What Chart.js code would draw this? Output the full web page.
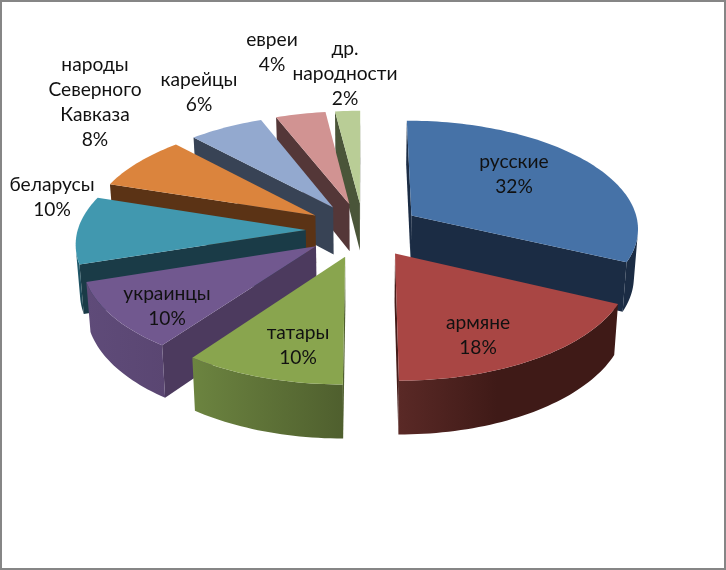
<!DOCTYPE html>
<html>
<head>
<meta charset="utf-8">
<style>
  html, body { margin: 0; padding: 0; background: #fff; }
  canvas { display: block; }
</style>
<script src="https://cdn.jsdelivr.net/npm/chart.js@4"></script>
</head>
<body>
<canvas id="myChart" width="726" height="570"></canvas>
<script>
const categories = ['русские', 'армяне', 'татары', 'украинцы', 'беларусы', 'народы Северного Кавказа', 'карейцы', 'евреи', 'др. народности'];
const shares = [32, 18, 10, 10, 10, 8, 6, 4, 2];

// colours per slice: top face, cut faces, outer wall left and right
const topColors = ['#4672A7', '#A94644', '#89A54E', '#71588F', '#4198AF', '#DB843D', '#93A9CF', '#D19392', '#B9CD96'];
const cutColors = ['#1B2C44', '#451C19', '#4F5F2E', '#4C3A5E', '#1A3B47', '#5B3315', '#384355', '#543738', '#4A5539'];
const wallLeft = ['#1B2C44', '#5A2926', '#6C8440', '#5F4B79', '#25687C', '#5B3315', '#384355', '#543738', '#4A5539'];
const wallRight = ['#1B2C44', '#3F1A17', '#4F5F2E', '#5A4672', '#1A3B47', '#5B3315', '#384355', '#543738', '#4A5539'];
const wallStop = [1, 0.45, 1, 1, 1, 1, 1, 1, 1];

// label anchors: centre x, centre y of first line
const labelAt = [[514, 162], [478, 323], [298, 333], [167, 294], [52, 185], [95, 65], [199, 80], [272, 40], [345, 49]];

// camera for the tilted pie
const cam = { cx: 363.4, cy: 230, a: 228, b: 108, p: 0.107, depth: 48, pz: 0.09, shrink: 0.985 };

function project (X, Y, bottom) {
  const w = 1 + cam.p * Y;
  let sx = cam.cx + cam.a * X / w;
  let sy = cam.cy - cam.b * Y / w;
  if (bottom) {
    sx = cam.cx + (sx - cam.cx) * cam.shrink;
    sy += cam.depth / (1 + cam.pz * Y);
  }
  return [sx, sy];
}

function area (pts) {
  let s = 0;
  pts.forEach((p, i) => {
    const q = pts[(i + 1) % pts.length];
    s += p[0] * q[1] - q[0] * p[1];
  });
  return s;
}

function fillPoly (ctx, pts, fill) {
  ctx.beginPath();
  pts.forEach((p, i) => i ? ctx.lineTo(p[0], p[1]) : ctx.moveTo(p[0], p[1]));
  ctx.closePath();
  ctx.fillStyle = fill;
  ctx.fill();
}

const pie3d = {
  id: 'pie3d',
  beforeDraw (chart) {
    const ctx = chart.ctx;
    ctx.save();
    ctx.fillStyle = '#fff';
    ctx.fillRect(0, 0, chart.width, chart.height);
    ctx.strokeStyle = '#868686';
    ctx.lineWidth = 2;
    ctx.strokeRect(1, 1, chart.width - 2, chart.height - 2);
    ctx.restore();
  },
  // the arcs are laid out by the doughnut controller, we only re-project them
  beforeDatasetsDraw (chart) {
    const ctx = chart.ctx;
    const arcs = chart.getDatasetMeta(0).data;
    const slices = arcs.map((arc, i) => {
      const t0 = arc.startAngle + Math.PI / 2;
      const t1 = arc.endAngle + Math.PI / 2;
      const mid = (t0 + t1) / 2;
      const e = arc.options.offset / arc.outerRadius;
      return { i, t0, t1, tipX: e * Math.sin(mid), tipY: e * Math.cos(mid) };
    });
    slices.sort((m, n) => n.tipY - m.tipY);

    ctx.save();
    slices.forEach(s => {
      const steps = Math.max(6, Math.ceil((s.t1 - s.t0) * 40));
      const rim = [];
      for (let k = 0; k <= steps; k++) {
        const t = s.t0 + (s.t1 - s.t0) * k / steps;
        rim.push([s.tipX + Math.sin(t), s.tipY + Math.cos(t)]);
      }
      const top = rim.map(r => project(r[0], r[1], false));
      const bot = rim.map(r => project(r[0], r[1], true));
      const tipTop = project(s.tipX, s.tipY, false);
      const tipBot = project(s.tipX, s.tipY, true);

      // cut faces
      const startFace = [tipTop, top[0], bot[0], tipBot];
      const endFace = [top[steps], tipTop, tipBot, bot[steps]];
      if (area(startFace) < 0) fillPoly(ctx, startFace, cutColors[s.i]);
      if (area(endFace) < 0) fillPoly(ctx, endFace, cutColors[s.i]);

      // outer wall, only the part that looks at us
      const upper = [];
      const lower = [];
      for (let k = 0; k < steps; k++) {
        if (area([top[k], top[k + 1], bot[k + 1], bot[k]]) < 0) {
          if (!upper.length) { upper.push(top[k]); lower.push(bot[k]); }
          upper.push(top[k + 1]);
          lower.push(bot[k + 1]);
        }
      }
      if (upper.length) {
        const poly = upper.concat(lower.reverse());
        const xs = poly.map(p => p[0]);
        const grad = ctx.createLinearGradient(Math.min(...xs), 0, Math.max(...xs), 0);
        grad.addColorStop(0, wallLeft[s.i]);
        grad.addColorStop(wallStop[s.i], wallRight[s.i]);
        grad.addColorStop(1, wallRight[s.i]);
        fillPoly(ctx, poly, grad);
      }

      fillPoly(ctx, [tipTop].concat(top), topColors[s.i]);
    });
    ctx.restore();
    return false;
  },
  afterDraw (chart) {
    const ctx = chart.ctx;
    ctx.save();
    ctx.font = '19.2px Lato, "Open Sans", sans-serif';
    ctx.fillStyle = '#111';
    ctx.textAlign = 'center';
    ctx.textBaseline = 'middle';
    categories.forEach((name, i) => {
      const lines = name.split(' ').concat(shares[i] + '%');
      lines.forEach((line, j) => {
        ctx.fillText(line, labelAt[i][0], labelAt[i][1] + j * 25);
      });
    });
    ctx.restore();
  }
};

new Chart(document.getElementById('myChart'), {
  type: 'pie',
  data: {
    labels: categories,
    datasets: [{
      data: shares,
      backgroundColor: topColors,
      borderWidth: 0,
      offset: 64
    }]
  },
  options: {
    responsive: false,
    animation: false,
    plugins: { legend: { display: false }, tooltip: { enabled: false } }
  },
  plugins: [pie3d]
});
</script>
</body>
</html>
